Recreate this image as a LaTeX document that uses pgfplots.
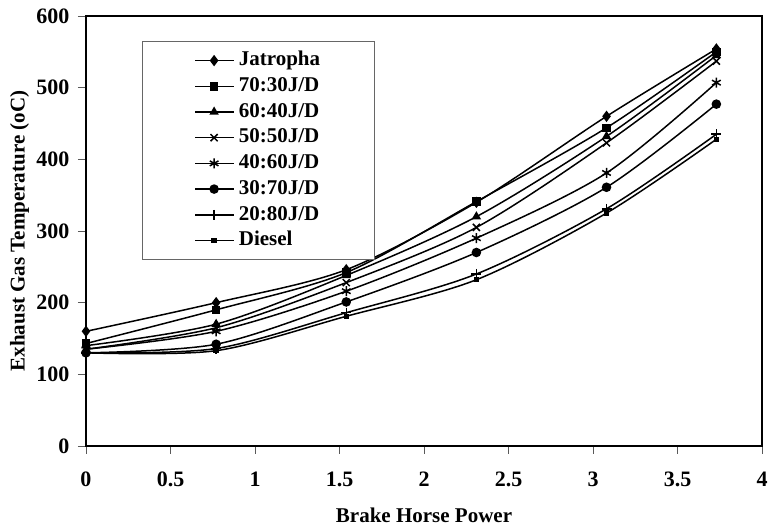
\documentclass[border=0pt]{standalone}
\usepackage{fontspec}
\setmainfont{Liberation Serif}
\usepackage{pgfplots}
\pgfplotsset{compat=1.18}
\begin{document}
\begin{tikzpicture}
\begin{axis}[
  name=ax,
  scale only axis, width=676pt, height=430pt,
  xmin=0, xmax=4, ymin=0, ymax=600,
  xtick={0,0.5,1,1.5,2,2.5,3,3.5,4}, ytick={0,100,200,300,400,500,600},
  tick pos=left, tick align=outside, major tick length=8pt,
  tick style={gray!70!black, line width=0.8pt},
  axis line style={line width=1.6pt},
  /pgf/number format/assume math mode=true,
  /pgf/number format/fixed,
  ticklabel style={font=\fontsize{22}{26}\selectfont\bfseries},
  xticklabel style={yshift=-14pt},
  yticklabel style={xshift=-5pt},
  xlabel={Brake Horse Power},
  ylabel={Exhaust Gas Temperature (oC)},
  label style={font=\fontsize{21}{25}\selectfont\bfseries},
  xlabel style={at={(axis description cs:0.5,-0.1605)}, anchor=center},
  ylabel style={at={(axis description cs:-0.0984,0.5)}, anchor=center},
  every axis plot/.append style={black, line width=1.5pt, smooth, mark options={solid}},
  legend image code/.code={\draw[mark repeat=2,mark phase=2,#1] plot coordinates {(0pt,0pt) (19pt,0pt) (38pt,0pt)};},
  legend style={at={(0.0828,0.942)}, anchor=north west, draw=gray!80!black, line width=0.8pt,
    font=\fontsize{21}{25}\selectfont\bfseries, inner xsep=52pt, inner ysep=8pt, row sep=3.2pt, column sep=3pt,
    nodes={inner sep=2pt, text height=14.5pt, text depth=4pt}},
  legend cell align=left,
]
\addplot[mark=diamond*, mark size=4.5pt] coordinates {(0,160) (0.77,200) (1.54,246) (2.31,340) (3.08,460) (3.73,554)};
\addlegendentry{Jatropha}
\addplot[mark=square*, mark size=3.5pt] coordinates {(0,143) (0.77,190) (1.54,242) (2.31,341) (3.08,444) (3.73,550)};
\addlegendentry{70:30J/D}
\addplot[mark=triangle*, mark size=4pt] coordinates {(0,140) (0.77,170) (1.54,238) (2.31,320) (3.08,432) (3.73,545)};
\addlegendentry{60:40J/D}
\addplot[mark=x, mark size=5pt] coordinates {(0,135) (0.77,165) (1.54,228) (2.31,305) (3.08,423) (3.73,537)};
\addlegendentry{50:50J/D}
\addplot[mark=asterisk, mark size=5pt] coordinates {(0,135) (0.77,160) (1.54,216) (2.31,290) (3.08,381) (3.73,507)};
\addlegendentry{40:60J/D}
\addplot[mark=*, mark size=4pt] coordinates {(0,130) (0.77,142) (1.54,201) (2.31,270) (3.08,361) (3.73,477)};
\addlegendentry{30:70J/D}
\addplot[mark=+, mark size=5pt] coordinates {(0,130) (0.77,136) (1.54,186) (2.31,240) (3.08,331) (3.73,435)};
\addlegendentry{20:80J/D}
\addplot[mark=square*, mark size=2pt] coordinates {(0,130) (0.77,133) (1.54,181) (2.31,232) (3.08,325) (3.73,428)};
\addlegendentry{Diesel}
\end{axis}
\pgfresetboundingbox
\path ([xshift=-86pt,yshift=-80pt]ax.south west) rectangle ([xshift=7pt,yshift=16pt]ax.north east);
\end{tikzpicture}
\end{document}
